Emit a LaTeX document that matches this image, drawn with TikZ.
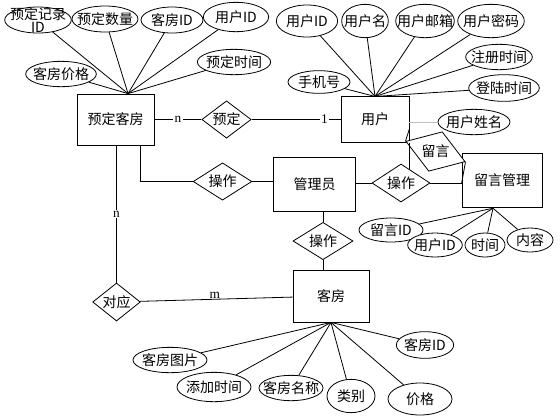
\documentclass[tikz,border=0pt]{standalone}
\usepackage{fontspec}
\setmainfont{Liberation Serif}
\newfontfamily\cjk{Noto Sans CJK SC}
\usetikzlibrary{shapes.geometric}

\begin{document}
\begin{tikzpicture}[x=0.75pt, y=-0.75pt, line width=0.6pt,
  every node/.style={font=\cjk\fontsize{10.5}{12}\selectfont},
  entity/.style={draw, fill=white, inner sep=2pt},
  attr/.style={ellipse, draw, fill=white, inner xsep=-6pt, inner ysep=-3pt},
  rel/.style={diamond, draw, fill=white, aspect=1.5, inner sep=0pt},
  card/.style={font=\rmfamily\fontsize{10}{12}\selectfont, fill=white, inner sep=1pt}]
  \useasboundingbox (0,0) rectangle (560,419);
  % entities
  \node[entity, minimum width=57.75pt, minimum height=38.25pt] (ydkf) at (115.5,119.5) {预定客房};
  \node[entity, minimum width=51pt, minimum height=34pt] (yonghu) at (375,119.5) {用户};
  \node[entity, minimum width=61pt, minimum height=41pt] (gly) at (314.5,184.5) {管理员};
  \node[entity, minimum width=60pt, minimum height=41pt] (lygl) at (502,180.5) {留言管理};
  \node[entity, minimum width=57pt, minimum height=39pt] (kefang) at (331,296) {客房};
  % relations
  \node[rel, minimum width=37pt, minimum height=28pt] (yd) at (226.5,119.5) {预定};
  \node[rel, minimum width=44pt, minimum height=28pt] (cz1) at (222.5,181.5) {操作};
  \node[rel, minimum width=43.5pt, minimum height=28.5pt] (cz2) at (401,183) {操作};
  \node[rel, minimum width=45pt, minimum height=28pt] (cz3) at (323,241) {操作};
  \node[rel, minimum width=35pt, minimum height=28.5pt] (dy) at (116.5,302) {对应};
  \node[rel, rotate=-19, minimum width=34.5pt, minimum height=27pt] (ly) at (435.5,151.5) {\rotatebox{19}{留言}};
  % attributes of 预定客房
  \node[attr, minimum width=50pt, minimum height=19.5pt, align=center, text depth=0pt] (yd-jl) at (38,20) {预定记录\\[-2.5pt]ID};
  \node[attr, minimum width=49.5pt, minimum height=19.5pt] (yd-sl) at (105,19) {预定数量};
  \node[attr, minimum width=46.5pt, minimum height=19.5pt] (yd-kf) at (172,20) {客房ID};
  \node[attr, minimum width=49pt, minimum height=22pt] (yd-yh) at (236,17) {用户ID};
  \node[attr, minimum width=55pt, minimum height=19pt] (yd-sj) at (234,62) {预定时间};
  \node[attr, minimum width=53pt, minimum height=19pt] (yd-jg) at (61,74) {客房价格};
  % attributes of 用户
  \node[attr, minimum width=46pt, minimum height=24pt] (yh-id) at (307,21) {用户ID};
  \node[attr, minimum width=35pt, minimum height=25pt] (yh-m) at (365,21) {用户名};
  \node[attr, minimum width=44pt, minimum height=25pt] (yh-yx) at (425,21) {用户邮箱};
  \node[attr, minimum width=50pt, minimum height=25pt] (yh-mm) at (491,21) {用户密码};
  \node[attr, minimum width=50pt, minimum height=19pt] (yh-zc) at (499,57) {注册时间};
  \node[attr, minimum width=53pt, minimum height=20pt] (yh-dl) at (504,88) {登陆时间};
  \node[attr, minimum width=46.5pt, minimum height=17pt] (yh-sj) at (319,82) {手机号};
  \node[attr, minimum width=54pt, minimum height=19pt] (yh-xm) at (474,122) {用户姓名};
  % attributes of 留言管理
  \node[attr, minimum width=48pt, minimum height=18pt] (ly-id) at (391,230) {留言ID};
  \node[attr, minimum width=41pt, minimum height=18pt] (ly-yh) at (435,245) {用户ID};
  \node[attr, minimum width=30pt, minimum height=18pt] (ly-sj) at (485,245) {时间};
  \node[attr, minimum width=34.5pt, minimum height=18pt] (ly-nr) at (530,240) {内容};
  % attributes of 客房
  \node[attr, minimum width=43pt, minimum height=20pt] (kf-id) at (425,345) {客房ID};
  \node[attr, minimum width=55.5pt, minimum height=19pt] (kf-tp) at (170,360) {客房图片};
  \node[attr, minimum width=55.5pt, minimum height=22pt] (kf-sj) at (214,387) {添加时间};
  \node[attr, minimum width=48pt, minimum height=19pt] (kf-mc) at (291,388) {客房名称};
  \node[attr, minimum width=36pt, minimum height=25pt] (kf-lb) at (351,396) {类别};
  \node[attr, minimum width=48pt, minimum height=24pt] (kf-jg) at (420,399) {价格};
  \coordinate (ydkf-top) at ([xshift=9.4pt]ydkf.north);
  \coordinate (lygl-bot) at ([xshift=-6.75pt]lygl.south);
  % attribute lines
  \draw (ydkf-top) -- (yd-jl);  \draw (ydkf-top) -- (yd-sl);  \draw (ydkf-top) -- (yd-kf);
  \draw (ydkf-top) -- (yd-yh);  \draw (ydkf-top) -- (yd-sj);  \draw (ydkf-top) -- (yd-jg);
  \draw (yonghu.north) -- (yh-id);  \draw (yonghu.north) -- (yh-m);  \draw (yonghu.north) -- (yh-yx);
  \draw (yonghu.north) -- (yh-mm);  \draw (yonghu.north) -- (yh-zc);  \draw (yonghu.north) -- (yh-dl);
  \draw (yonghu.north) -- (yh-sj);
  \draw[gray!50] (yonghu.east |- yh-xm) -- (yh-xm);
  \draw (lygl-bot) -- (ly-id);  \draw (lygl-bot) -- (ly-yh);  \draw (lygl-bot) -- (ly-sj);  \draw (lygl-bot) -- (ly-nr);
  \draw (kefang.south) -- (kf-id);  \draw (kefang.south) -- (kf-tp);  \draw (kefang.south) -- (kf-sj);
  \draw (kefang.south) -- (kf-mc);  \draw (kefang.south) -- (kf-lb);  \draw (kefang.south) -- (kf-jg);
  % relation lines
  \draw (ydkf) -- node[card] {n} (yd);
  \draw (yd) -- node[card, pos=0.82] {1} (yonghu);
  \draw ([xshift=18.4pt]ydkf.south) |- (cz1.west);
  \draw (cz1.east) -- (cz1.east -| gly.west);
  \draw (cz2.west -| gly.east) -- (cz2.west);
  \draw (cz2.east) -- (cz2.east -| lygl.west);
  \draw (yonghu.south east) -- (yonghu.south east |- cz2.60);
  \draw ([yshift=-7pt]yonghu.east) -- (ly.west);
  \draw (ly.east) -- ([yshift=-2pt]lygl.west);
  \draw (gly.south -| cz3.north) -- (cz3.north);
  \draw (cz3.south) -- (cz3.south |- kefang.north);
  \draw (ydkf.south -| dy.north) -- node[card] {n} (dy.north);
  \draw (dy) -- node[card, above, fill=none, inner sep=0pt, pos=0.49] {m} (kefang);
\end{tikzpicture}
\end{document}
